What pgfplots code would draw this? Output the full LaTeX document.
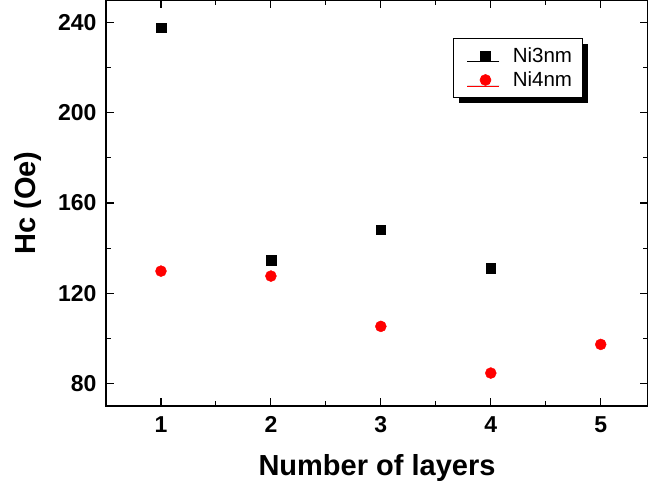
\documentclass[border=0pt]{standalone}
\usepackage{pgfplots}
\pgfplotsset{compat=1.18}
\usepackage{fontspec}
\setmainfont{Liberation Sans}
\usetikzlibrary{shadows}
\begin{document}
\begin{tikzpicture}
\begin{axis}[
  scale only axis,
  width=542pt, height=406pt,
  xmin=0.5, xmax=5.43,
  ymin=70, ymax=250,
  xtick={1,2,3,4,5},
  ytick={80,120,160,200,240},
  minor x tick num=1,
  minor y tick num=1,
  tick align=inside,
  major tick length=8pt,
  minor tick length=5pt,
  axis line style={line width=1.4pt},
  every tick/.style={line width=1.1pt, black},
  /pgf/number format/assume math mode=true,
  tick label style={font=\fontsize{23}{26}\selectfont\bfseries},
  xticklabel style={yshift=-7pt},
  yticklabel style={xshift=-6pt},
  xlabel={Number of layers},
  ylabel={Hc (Oe)},
  label style={font=\fontsize{29}{33}\selectfont\bfseries},
  xlabel style={yshift=-15pt},
  ylabel style={yshift=10pt},
  legend style={
    at={(0.640,0.906)}, anchor=north west,
    draw=black, line width=0.6pt, fill=white,
    drop shadow={shadow xshift=6pt, shadow yshift=-6pt, fill=black, opacity=1},
    font=\fontsize{20.5}{24}\selectfont,
    inner xsep=8pt, inner ysep=7pt,
    row sep=4pt,
  },
  legend cell align=left,
  legend image code/.code={
    \path[draw opacity=0, fill opacity=0] (0pt,0pt) -- (32pt,0pt);
    \draw[#1, only marks, mark repeat=1] plot coordinates {(24pt,0pt)};
  },
]
\addplot[only marks, mark=square*, mark size=4.8pt, black] coordinates {
  (1,237.8) (2,134.7) (3,148.1) (4,131.1)
};
\addlegendentry{\hspace{17pt}Ni3nm}
\addplot[only marks, mark=*, mark size=5.5pt, red, draw=red, fill=red] coordinates {
  (1,129.8) (2,127.6) (3,105.3) (4,84.6) (5,97.3)
};
\addlegendentry{\hspace{17pt}Ni4nm}
\end{axis}
\pgfresetboundingbox
\path (current axis.south west) ++(-106pt,-80pt) rectangle (current axis.north east);
\end{tikzpicture}
\end{document}
